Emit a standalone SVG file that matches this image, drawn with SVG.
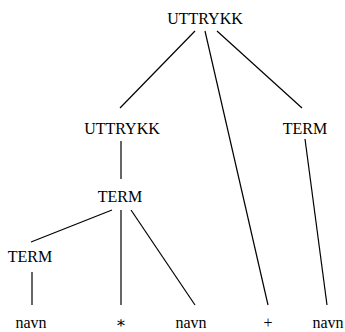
<svg xmlns="http://www.w3.org/2000/svg" width="345" height="332" viewBox="0 0 345 332">
<style>
text { font-family: "Liberation Serif", "Times New Roman", "DejaVu Serif", serif; font-size: 16px; fill: #000; text-anchor: middle; }
#edges line { stroke: #000; stroke-width: 1.2; }
</style>
<rect width="345" height="332" fill="#fff"/>
<g id="edges">
<line x1="195" y1="31" x2="120" y2="108"/>
<line x1="205" y1="31" x2="268" y2="305"/>
<line x1="217" y1="31" x2="302" y2="108"/>
<line x1="121" y1="141" x2="121" y2="179"/>
<line x1="305" y1="139" x2="327" y2="305"/>
<line x1="112" y1="210" x2="31" y2="242"/>
<line x1="121" y1="210" x2="121" y2="305"/>
<line x1="131" y1="210" x2="195" y2="305"/>
<line x1="32" y1="272" x2="32" y2="305"/>
</g>
<g id="n_root"><text x="205" y="24">UTTRYKK</text></g>
<g id="n_uttrykk"><text x="122" y="134">UTTRYKK</text></g>
<g id="n_term_r"><text x="305" y="134">TERM</text></g>
<g id="n_term_m"><text x="120" y="202">TERM</text></g>
<g id="n_term_l"><text x="30" y="262">TERM</text></g>
<g id="n_navn1"><text x="31" y="328">navn</text></g>
<g id="n_star"><text x="121" y="328">∗</text></g>
<g id="n_navn2"><text x="191" y="328">navn</text></g>
<g id="n_plus"><text x="268" y="328">+</text></g>
<g id="n_navn3"><text x="328" y="328">navn</text></g>
</svg>
